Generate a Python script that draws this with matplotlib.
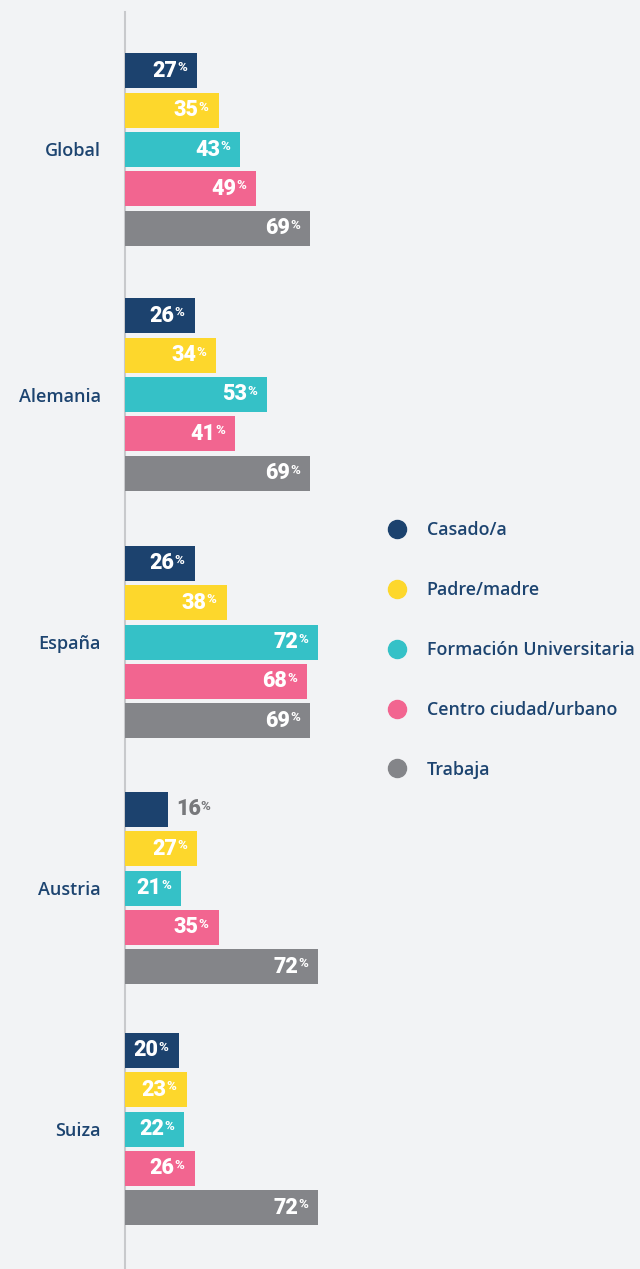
import matplotlib

matplotlib.use("Agg")
import matplotlib.pyplot as plt
from matplotlib.lines import Line2D

# data
countries = ["Global", "Alemania", "España", "Austria", "Suiza"]
series = ["Casado/a", "Padre/madre", "Formación Universitaria",
          "Centro ciudad/urbano", "Trabaja"]
casado = [27, 26, 26, 16, 20]
padre = [35, 34, 38, 27, 23]
formacion = [43, 53, 72, 21, 22]
centro = [49, 41, 68, 35, 26]
trabaja = [69, 69, 69, 72, 72]
values = [casado, padre, formacion, centro, trabaja]

colors = ["#1c426e", "#fdd72c", "#35c1c7", "#f26590", "#848589"]
bg = "#f2f3f5"
navy = "#1d4470"

W, H = 640, 1269
fig = plt.figure(figsize=(W / 100, H / 100), dpi=100, facecolor=bg)
ax = fig.add_axes([0, 0, 1, 1], facecolor=bg)

px_per_pct = 2.68
x0 = 125
ax.set_xlim(-x0 / px_per_pct, (W - x0) / px_per_pct)
ax.set_ylim(H, 0)
ax.axis("off")

# vertical centre of each country group (pixels from top)
group_centers = [149.5, 394.5, 642, 888, 1129]
bar_step, bar_h = 39.3, 35

ax.axvline(0, ymin=0, ymax=1 - 12 / H, color="#c8c9cc", lw=1.5, zorder=0)

num_font = dict(family="Roboto", weight="heavy")
lab_font = dict(family="Open Sans", weight="semibold")

for g, country in enumerate(countries):
    yc = group_centers[g]
    ax.annotate(country, xy=(0, yc), xytext=(-24, -2), textcoords="offset pixels",
                ha="right", va="center", fontsize=13, color=navy, **lab_font)
    for i, vals in enumerate(values):
        y = yc + (i - 2) * bar_step
        v = vals[g]
        ax.barh(y, v, height=bar_h, color=colors[i], zorder=2)
        if v >= 18:
            num = ax.annotate(str(v), xy=(v, y), xytext=(-20, 0),
                              textcoords="offset pixels", ha="right", va="center",
                              fontsize=15.5, color="white", zorder=3, **num_font)
            col = "white"
        else:
            num = ax.annotate(str(v), xy=(v, y), xytext=(8, 0),
                              textcoords="offset pixels", ha="left", va="center",
                              fontsize=15.5, color="#77787b", zorder=3, **num_font)
            col = "#77787b"
        ax.annotate("%", xy=(1, 0.93), xycoords=num, xytext=(0, 0),
                    textcoords="offset pixels", ha="left", va="top",
                    fontsize=9.5, color=col, zorder=3, **num_font)

handles = [Line2D([], [], marker="o", ls="none", markersize=13,
                  markerfacecolor=c, markeredgecolor=c) for c in colors]
leg = ax.legend(handles, series, loc="upper left",
                bbox_to_anchor=(388 / W, 1 - 521 / H), bbox_transform=fig.transFigure,
                frameon=False, labelspacing=2.34,
                handlelength=1.0, handletextpad=1.15, borderpad=0, borderaxespad=0,
                prop=dict(family="Open Sans", weight="semibold", size=12.9))
for t in leg.get_texts():
    t.set_color(navy)

fig.savefig("out.png", dpi=100, facecolor=bg)
